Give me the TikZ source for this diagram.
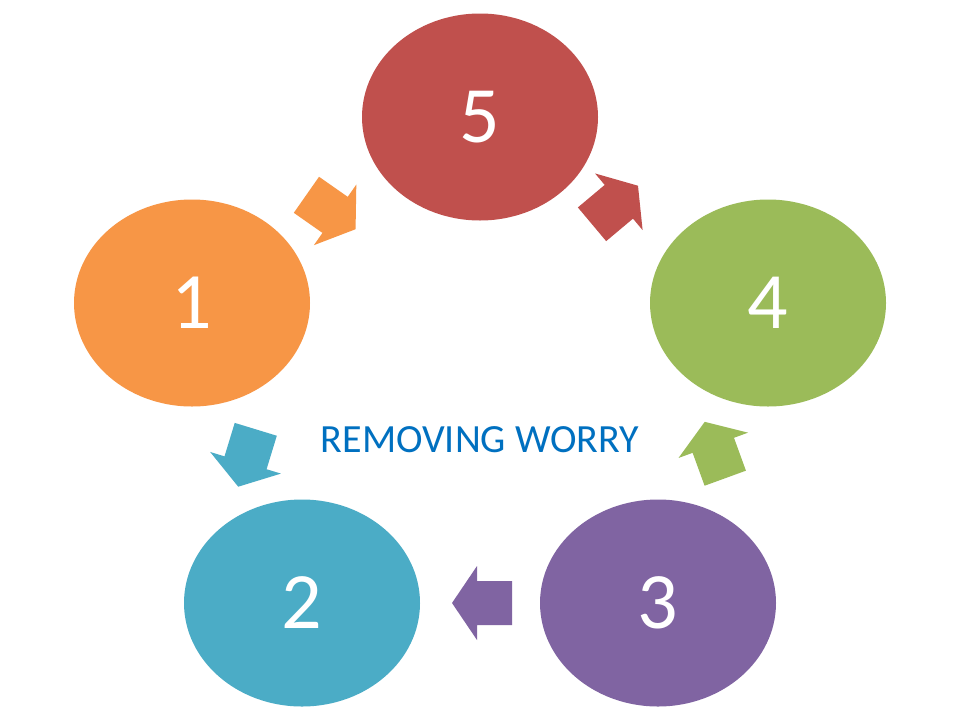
\documentclass[tikz,border=0pt]{standalone}
\usepackage{fontspec}
\setmainfont{Carlito}
\usetikzlibrary{shapes.geometric}
\definecolor{cor}{HTML}{F79646}
\definecolor{cre}{HTML}{C0504D}
\definecolor{cgr}{HTML}{9BBB59}
\definecolor{cpu}{HTML}{8064A2}
\definecolor{cbl}{HTML}{4BACC6}
\definecolor{ctx}{RGB}{0,112,192}
\newcommand\blockarr[4]{\fill[#1,shift={(#2,#3)},rotate=#4] (-30,-22) -- (5,-22) -- (5,-37) -- (30,0) -- (5,37) -- (5,22) -- (-30,22) -- cycle;}
\begin{document}
\begin{tikzpicture}[x=1pt,y=-1pt,
  blob/.style={ellipse,minimum width=236pt,minimum height=207pt,inner sep=0pt,text=white,font=\fontsize{80}{80}\selectfont}]
\useasboundingbox (0,0) rectangle (960,720);
\fill[white] (0,0) rectangle (960,720);
\node[blob,fill=cre] (n5) at (480,117) {5};
\node[blob,fill=cgr] (n4) at (768,303) {4};
\node[blob,fill=cpu] (n3) at (658,603) {3};
\node[blob,fill=cbl] (n2) at (302,603) {2};
\node[blob,fill=cor] (n1) at (192,303) {1};
\blockarr{cor}{331}{212}{-35}
\blockarr{cre}{615}{205}{40}
\blockarr{cgr}{715}{450}{110}
\blockarr{cpu}{482}{603}{180}
\blockarr{cbl}{247}{458}{-107}
\node[text=ctx,font=\fontsize{40}{40}\selectfont] (t) at (480,440) {REMOVING WORRY};
\end{tikzpicture}
\end{document}
